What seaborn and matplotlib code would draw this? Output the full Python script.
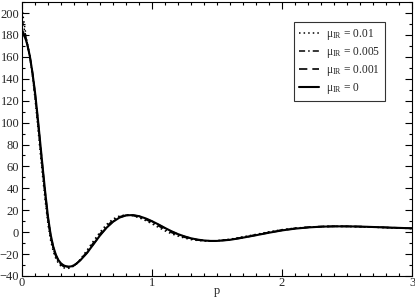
import numpy as np
import pandas as pd
import matplotlib
matplotlib.use("Agg")
import matplotlib.pyplot as plt
import seaborn as sns
from matplotlib.ticker import MultipleLocator

p = [0, 0.01, 0.02, 0.03, 0.04, 0.06, 0.08, 0.10, 0.12, 0.14, 0.16, 0.18, 0.20,
     0.22, 0.24, 0.26, 0.28, 0.30, 0.32, 0.34, 0.36, 0.38, 0.40, 0.42, 0.45,
     0.50, 0.55, 0.60, 0.65, 0.70, 0.75, 0.80, 0.85, 0.90, 0.95, 1.00, 1.05,
     1.10, 1.15, 1.20, 1.25, 1.30, 1.35, 1.40, 1.45, 1.50, 1.60, 1.70, 1.80,
     1.90, 2.00, 2.10, 2.20, 2.30, 2.40, 2.50, 2.60, 2.70, 2.80, 2.90, 3.00]

mu_001 = [205, 196, 188, 180.5, 173.5, 160, 143, 122, 98, 73, 49, 27, 7,
          -7.5, -17.5, -24, -28.5, -31, -32.5, -33, -33, -32.2, -30.8, -28.8, -24.5,
          -16.5, -8, 0, 7, 12, 14.8, 15.8, 15, 13.2, 10.6, 7.6, 4.3,
          1.2, -1.5, -3.6, -5.4, -6.8, -7.6, -8, -8.1, -7.8, -6.4, -4.3, -2,
          0.3, 2.3, 3.7, 4.6, 5.2, 5.3, 5.2, 4.9, 4.5, 4.1, 3.7, 3.3]

mu_0005 = [194, 189, 184, 178, 172.5, 160.5, 145, 125, 102, 78, 54, 31, 10.5,
           -4.5, -15, -22, -27, -29.8, -31.4, -32, -32.2, -31.7, -30.5, -28.7, -25,
           -17.8, -9.5, -1.5, 5.5, 10.8, 14.1, 15.6, 15.3, 13.9, 11.6, 8.8, 5.6,
           2.5, -0.4, -2.7, -4.7, -6.2, -7.2, -7.8, -8, -7.9, -6.7, -4.6, -2.4,
           -0.1, 2, 3.5, 4.5, 5.1, 5.3, 5.25, 5, 4.6, 4.2, 3.8, 3.4]

mu_0001 = [185, 182.5, 179.5, 176, 171.8, 161, 146, 127.5, 105, 81, 57, 34, 13,
           -2.5, -13.5, -21, -26, -28.8, -30.5, -31.3, -31.6, -31.3, -30.3, -28.6, -25.4,
           -18.8, -10.8, -2.8, 4.2, 9.7, 13.4, 15.35, 15.6, 14.5, 12.4, 9.8, 6.8,
           3.6, 0.6, -1.9, -4, -5.7, -6.9, -7.6, -8, -8, -7, -5, -2.7,
           -0.4, 1.7, 3.3, 4.3, 5, 5.3, 5.3, 5.1, 4.7, 4.3, 3.9, 3.5]

mu_0 = [181, 180.5, 178.5, 175.5, 171.5, 161, 146, 128, 106, 82, 58, 35, 14,
        -2, -13, -20.5, -25.5, -28.5, -30.3, -31.2, -31.5, -31.2, -30.2, -28.6, -25.5,
        -19, -11, -3, 4, 9.5, 13.3, 15.3, 15.6, 14.6, 12.6, 10, 7,
        3.8, 0.8, -1.8, -3.9, -5.6, -6.8, -7.6, -8, -8, -7, -5, -2.8,
        -0.5, 1.6, 3.2, 4.3, 5, 5.3, 5.3, 5.1, 4.7, 4.3, 3.9, 3.5]

labels = ["μ$_{\\mathrm{IR}}$ = 0.01", "μ$_{\\mathrm{IR}}$ = 0.005",
          "μ$_{\\mathrm{IR}}$ = 0.001", "μ$_{\\mathrm{IR}}$ = 0"]
x_ticks = [0, 1, 2, 3]
y_ticks = [-40, -20, 0, 20, 40, 60, 80, 100, 120, 140, 160, 180, 200]

sns.set_style("ticks")
plt.rcParams["font.family"] = ["Liberation Serif", "DejaVu Serif"]
plt.rcParams["mathtext.fontset"] = "custom"
plt.rcParams["mathtext.rm"] = "Liberation Serif"
plt.rcParams["mathtext.it"] = "Liberation Serif:italic"

fig = plt.figure(figsize=(4.15, 2.99), dpi=100)
ax = fig.add_axes([0.053, 0.077, 0.940, 0.916])

series = [mu_001, mu_0005, mu_0001, mu_0]
styles = [(0, (1, 2)), (0, (4, 2, 1, 2)), (0, (5, 3)), "-"]
widths = [1.1, 1.1, 1.2, 1.5]
for vals, lab, ls, lw in zip(series, labels, styles, widths):
    df = pd.DataFrame({"p": p, "v": vals})
    sns.lineplot(data=df, x="p", y="v", ax=ax, color="black", linestyle=ls,
                 linewidth=lw, label=lab, sort=False)

ax.set_xlim(0, 3)
ax.set_ylim(-40, 210)
ax.set_xticks(x_ticks)
ax.set_yticks(y_ticks)
ax.xaxis.set_minor_locator(MultipleLocator(0.1))
ax.yaxis.set_minor_locator(MultipleLocator(10))
ax.tick_params(which="both", direction="in", top=True, right=True,
               labelsize=9, width=0.8, color="black")
ax.tick_params(axis="x", which="major", pad=1)
ax.tick_params(axis="y", which="major", pad=2)
ax.tick_params(which="major", length=5)
ax.tick_params(which="minor", length=2.5)
ax.set_xlabel("p", fontsize=9, labelpad=-3.5)
ax.set_ylabel("")
for s in ax.spines.values():
    s.set_linewidth(0.8)
    s.set_color("black")

leg = ax.legend(loc="upper right", bbox_to_anchor=(0.931, 0.927), fontsize=8.3,
                frameon=True, fancybox=False, edgecolor="black",
                handlelength=1.8, handletextpad=0.6, borderpad=0.4,
                borderaxespad=0, labelspacing=0.28)
leg.get_frame().set_linewidth(0.8)

fig.savefig("out.png", dpi=100)
